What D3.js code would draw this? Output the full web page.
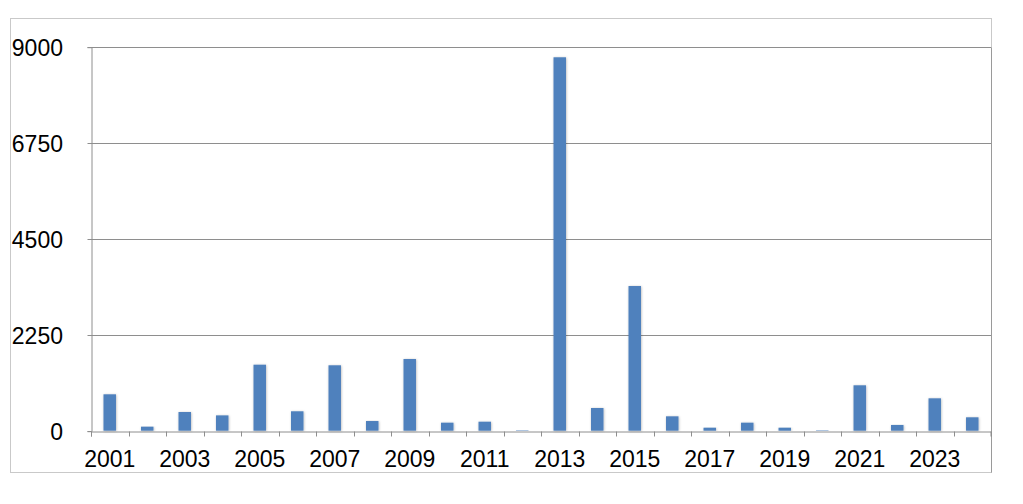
<!DOCTYPE html>
<html>
<head>
<meta charset="utf-8">
<script src="https://cdn.jsdelivr.net/npm/d3@7"></script>
<style>
  html, body { margin: 0; padding: 0; background: #fff; }
  svg { display: block; }
  text { font-family: "Liberation Sans", Arial, sans-serif; }
</style>
</head>
<body>
<svg id="chart" width="1023" height="504"></svg>
<script>
const years = ["2001","2002","2003","2004","2005","2006","2007","2008","2009","2010","2011","2012",
               "2013","2014","2015","2016","2017","2018","2019","2020","2021","2022","2023","2024"];
const values = [853, 94, 438, 359, 1547, 455, 1533, 227, 1680, 188, 211, 10,
                8752, 532, 3391, 337, 70, 188, 70, 10, 1064, 134, 759, 314];
const yTicks = [0, 2250, 4500, 6750, 9000];
const xLabels = ["2001","2003","2005","2007","2009","2011","2013","2015","2017","2019","2021","2023"];

const svg = d3.select("#chart");
const W = 1023, H = 504;
const plot = { left: 91, right: 991, top: 46.7, bottom: 430.7 };

const defs = svg.append("defs");
const f = defs.append("filter").attr("id", "shadow")
  .attr("x", "-50%").attr("y", "-10%").attr("width", "200%").attr("height", "120%");
f.append("feDropShadow").attr("dx", 0.5).attr("dy", 0.5).attr("stdDeviation", 1.2)
  .attr("flood-color", "#000").attr("flood-opacity", 0.28);

// outer frame
svg.append("rect").attr("x", 10.5).attr("y", 18.5).attr("width", 981).attr("height", 454)
  .attr("fill", "#fff").attr("stroke", "#c9c9c9").attr("stroke-width", 1);

const x = d3.scaleBand().domain(years).range([plot.left, plot.right]).paddingInner(0.667).paddingOuter(0.333);
const xb = d3.scaleBand().domain(years).range([plot.left, plot.right]);
const y = d3.scaleLinear().domain([0, 9000]).range([plot.bottom, plot.top]);

// gridlines
svg.append("g").selectAll("line").data(yTicks.filter(d => d > 0)).join("line")
  .attr("x1", plot.left).attr("x2", plot.right)
  .attr("y1", d => Math.round(y(d)) + 0.5).attr("y2", d => Math.round(y(d)) + 0.5)
  .attr("stroke", "#8e8e8e").attr("stroke-width", 1);

// right plot border
svg.append("line").attr("x1", plot.right + 0.5).attr("x2", plot.right + 0.5)
  .attr("y1", Math.round(y(9000)) + 0.5).attr("y2", 472.5)
  .attr("stroke", "#9a9a9a");

// bars
svg.append("g").selectAll("rect").data(values).join("rect")
  .attr("x", (d, i) => x(years[i]))
  .attr("width", x.bandwidth())
  .attr("y", d => y(d))
  .attr("height", d => y(0) - y(d))
  .attr("fill", "#4f81bd")
  .attr("filter", "url(#shadow)");

// y axis
const yAxis = d3.axisLeft(y).tickValues(yTicks).tickSize(4).tickFormat("");
const gy = svg.append("g").attr("transform", `translate(${plot.left + 0.5},0.5)`).call(yAxis);
gy.select(".domain").attr("stroke", "#8e8e8e");
gy.selectAll(".tick line").attr("stroke", "#8e8e8e");
gy.selectAll(".tick").attr("transform", d => `translate(0,${Math.round(y(d))})`);

svg.append("g").selectAll("text").data(yTicks).join("text")
  .attr("x", 63).attr("y", d => y(d) + 1)
  .attr("text-anchor", "end").attr("dominant-baseline", "central")
  .attr("font-size", 23).attr("fill", "#000")
  .text(d => d);

// x axis
const xAxis = d3.axisBottom(xb).tickSize(5).tickFormat("");
const gx = svg.append("g").attr("transform", `translate(0,${Math.round(y(0)) + 0.5})`).call(xAxis);
gx.select(".domain").attr("stroke", "#8e8e8e");
gx.selectAll(".tick").attr("transform", d => `translate(${Math.round(xb(d)) + 0.5},0)`);
gx.selectAll(".tick line").attr("stroke", "#8e8e8e");
gx.append("line").attr("x1", plot.right).attr("x2", plot.right).attr("y1", 0).attr("y2", 5).attr("stroke", "#8e8e8e");

svg.append("g").selectAll("text").data(xLabels).join("text")
  .attr("x", d => xb(d) + xb.bandwidth() / 2)
  .attr("y", 459)
  .attr("text-anchor", "middle").attr("dominant-baseline", "central")
  .attr("font-size", 23).attr("fill", "#000")
  .text(d => d);
</script>
</body>
</html>
